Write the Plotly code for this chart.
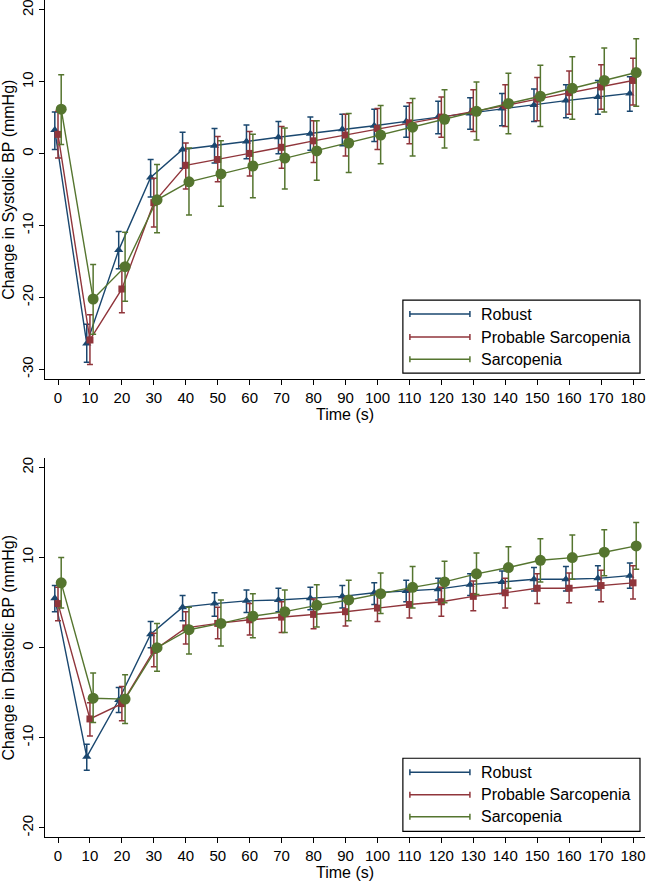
import plotly.graph_objects as go
from plotly.subplots import make_subplots

TIME = [0, 10, 20, 30, 40, 50, 60, 70, 80, 90, 100, 110, 120, 130, 140, 150, 160, 170, 180]
GROUPS = ["Robust", "Probable Sarcopenia", "Sarcopenia"]

SBP_TICKS = [-30, -20, -10, 0, 10, 20]
SBP_TICK_TEXT = ["-30", "-20", "-10", "0", "10", "20"]
DBP_TICKS = [-20, -10, 0, 10, 20]
DBP_TICK_TEXT = ["-20", "-10", "0", "10", "20"]

# Systolic BP change (mean, lower CI, upper CI)
SBP_ROB = [3.3, -26.4, -13.4, -3.3, 0.6, 1.1, 1.7, 2.3, 2.8, 3.4, 3.9, 4.5, 5.1, 5.6, 6.3, 6.8, 7.4, 7.9, 8.4]
SBP_ROB_LO = [0.6, -29.0, -16.0, -6.0, -2.0, -1.3, -0.7, 0.0, 0.5, 1.1, 1.7, 2.3, 2.8, 3.4, 3.9, 4.5, 5.0, 5.5, 5.9]
SBP_ROB_HI = [5.8, -23.7, -10.8, -0.8, 3.0, 3.5, 4.0, 4.5, 5.1, 5.5, 6.2, 6.6, 7.3, 7.8, 8.4, 9.0, 9.6, 10.2, 10.7]

SBP_PROB = [2.7, -25.9, -18.8, -6.8, -1.6, -0.8, 0.05, 0.9, 1.8, 2.6, 3.5, 4.3, 5.1, 5.9, 6.7, 7.6, 8.5, 9.3, 10.2]
SBP_PROB_LO = [-0.6, -29.3, -22.1, -10.2, -4.9, -3.9, -3.1, -2.0, -1.2, -0.3, 0.6, 1.4, 2.3, 3.1, 3.8, 4.6, 5.5, 6.2, 6.8]
SBP_PROB_HI = [5.9, -22.4, -15.6, -3.4, 1.5, 2.4, 3.1, 3.8, 4.6, 5.5, 6.3, 7.1, 7.9, 8.9, 9.6, 10.6, 11.5, 12.4, 13.3]

SBP_SARC = [6.2, -20.2, -15.7, -6.4, -3.9, -2.8, -1.7, -0.6, 0.4, 1.5, 2.6, 3.7, 4.8, 5.9, 7.0, 8.0, 9.1, 10.2, 11.3]
SBP_SARC_LO = [1.3, -25.1, -20.5, -11.0, -8.5, -7.3, -6.1, -4.9, -3.7, -2.6, -1.4, -0.3, 0.8, 1.9, 2.8, 3.8, 4.8, 5.8, 6.6]
SBP_SARC_HI = [11.0, -15.4, -10.9, -1.5, 0.8, 1.8, 2.7, 3.6, 4.6, 5.6, 6.7, 7.7, 8.9, 10.0, 11.2, 12.3, 13.5, 14.7, 16.0]

# Diastolic BP change (mean, lower CI, upper CI)
DBP_ROB = [5.5, -12.1, -5.8, 1.5, 4.5, 4.9, 5.2, 5.3, 5.5, 5.7, 6.1, 6.3, 6.5, 7.0, 7.3, 7.6, 7.6, 7.7, 8.0]
DBP_ROB_LO = [4.0, -13.6, -7.2, 0.0, 3.0, 3.5, 3.9, 4.0, 4.2, 4.4, 4.8, 5.1, 5.3, 5.8, 6.0, 6.3, 6.3, 6.4, 6.6]
DBP_ROB_HI = [6.9, -10.7, -4.4, 2.9, 5.8, 6.1, 6.4, 6.6, 6.7, 6.9, 7.2, 7.5, 7.7, 8.2, 8.5, 8.9, 9.0, 9.1, 9.4]

DBP_PROB = [4.9, -7.9, -6.2, -0.3, 2.2, 2.7, 3.1, 3.4, 3.7, 4.0, 4.4, 4.8, 5.1, 5.7, 6.1, 6.6, 6.6, 6.9, 7.2]
DBP_PROB_LO = [3.0, -9.8, -8.1, -2.1, 0.4, 1.0, 1.4, 1.7, 2.1, 2.4, 2.9, 3.3, 3.5, 4.1, 4.4, 4.9, 5.0, 5.1, 5.4]
DBP_PROB_HI = [6.7, -6.1, -4.3, 1.6, 4.0, 4.5, 4.9, 5.1, 5.4, 5.5, 6.0, 6.4, 6.7, 7.4, 7.7, 8.2, 8.3, 8.6, 9.1]

DBP_SARC = [7.2, -5.6, -5.7, 0.0, 2.0, 2.7, 3.5, 4.0, 4.7, 5.3, 6.0, 6.7, 7.3, 8.2, 8.9, 9.7, 10.0, 10.6, 11.3]
DBP_SARC_LO = [4.4, -8.3, -8.4, -2.6, -0.7, 0.2, 1.1, 1.7, 2.3, 3.0, 3.8, 4.4, 5.0, 5.9, 6.6, 7.3, 7.6, 8.0, 8.7]
DBP_SARC_HI = [10.0, -2.8, -3.0, 2.7, 4.5, 5.3, 6.0, 6.4, 7.0, 7.5, 8.3, 9.0, 9.6, 10.5, 11.2, 12.1, 12.5, 13.1, 13.9]

# styling
COLORS = ["#1A476F", "#90353B", "#55752F"]
SYMBOLS = ["triangle-up", "square", "circle"]
SIZES = [8, 7, 11]
DODGE = [-1, 0, 1]
FONT = "Liberation Sans, Arial, Helvetica, sans-serif"

W, H = 646, 883
ML, MR, MT, MB = 45.3, 1, 0, 46.3


def px(x):
    return (x - ML) / (W - ML - MR)


def py(y):
    return (H - MB - y) / (H - MT - MB)


fig = make_subplots(rows=2, cols=1, vertical_spacing=0.0)
fig.update_yaxes(domain=[py(379.3), 1.0], row=1, col=1)
fig.update_yaxes(domain=[0.0, py(458.3)], row=2, col=1)

panels = [
    (1, [(SBP_ROB, SBP_ROB_LO, SBP_ROB_HI),
         (SBP_PROB, SBP_PROB_LO, SBP_PROB_HI),
         (SBP_SARC, SBP_SARC_LO, SBP_SARC_HI)]),
    (2, [(DBP_ROB, DBP_ROB_LO, DBP_ROB_HI),
         (DBP_PROB, DBP_PROB_LO, DBP_PROB_HI),
         (DBP_SARC, DBP_SARC_LO, DBP_SARC_HI)]),
]

for row, series in panels:
    for i, (m, lo, hi) in enumerate(series):
        fig.add_trace(go.Scatter(
            x=[t + DODGE[i] for t in TIME], y=m,
            mode="lines+markers", name=GROUPS[i], showlegend=False,
            line=dict(color=COLORS[i], width=1.4),
            marker=dict(symbol=SYMBOLS[i], size=SIZES[i], color=COLORS[i]),
            error_y=dict(type="data", symmetric=False,
                         array=[h - v for h, v in zip(hi, m)],
                         arrayminus=[v - l for v, l in zip(m, lo)],
                         color=COLORS[i], thickness=1.5, width=3),
        ), row=row, col=1)

ax_common = dict(showline=True, linecolor="black", linewidth=1,
                 ticks="outside", ticklen=5, tickcolor="black",
                 showgrid=False, zeroline=False, automargin=False,
                 ticklabeloverflow="allow",
                 tickfont=dict(family=FONT, size=15, color="black"))
title_font = dict(family=FONT, size=16, color="black")

for row in (1, 2):
    fig.update_xaxes(**ax_common, range=[-4.07, 183.75], tickvals=TIME,
                     ticktext=[str(t) for t in TIME],
                     title=dict(text="Time (s)", font=title_font, standoff=1),
                     row=row, col=1)

fig.update_yaxes(**ax_common, range=[-31.39, 21.39], tickvals=SBP_TICKS,
                 ticktext=SBP_TICK_TEXT, tickangle=-90,
                 title=dict(text="Change in Systolic BP (mmHg)", font=title_font, standoff=2),
                 row=1, col=1)
fig.update_yaxes(**ax_common, range=[-21.0, 21.0], tickvals=DBP_TICKS,
                 ticktext=DBP_TICK_TEXT, tickangle=-90,
                 title=dict(text="Change in Diastolic BP (mmHg)", font=title_font, standoff=2),
                 row=2, col=1)

# legends drawn as boxes with capped line keys
shapes = []
annotations = []
legend_boxes = [
    (403, 300, 640, 373, [314, 337, 359]),
    (403, 758, 640, 831, [772, 794.5, 816.5]),
]
for x0, y0, x1, y1, rows_y in legend_boxes:
    shapes.append(dict(type="rect", xref="paper", yref="paper",
                       x0=px(x0), x1=px(x1), y0=py(y1), y1=py(y0),
                       line=dict(color="black", width=1.2), fillcolor="white", layer="above"))
    for i, yy in enumerate(rows_y):
        shapes.append(dict(type="line", xref="paper", yref="paper",
                           x0=px(410), x1=px(470), y0=py(yy), y1=py(yy),
                           line=dict(color=COLORS[i], width=1.5), layer="above"))
        for xc in (410, 470):
            shapes.append(dict(type="line", xref="paper", yref="paper",
                               x0=px(xc), x1=px(xc), y0=py(yy - 3), y1=py(yy + 3),
                               line=dict(color=COLORS[i], width=1.5), layer="above"))
        annotations.append(dict(text=GROUPS[i], xref="paper", yref="paper",
                                x=px(479), y=py(yy), xanchor="left", yanchor="middle",
                                showarrow=False,
                                font=dict(family=FONT, size=16, color="black")))

fig.update_layout(
    width=W, height=H,
    margin=dict(l=ML, r=MR, t=MT, b=MB, pad=0),
    paper_bgcolor="white", plot_bgcolor="white",
    showlegend=False,
    font=dict(family=FONT, size=15, color="black"),
    shapes=shapes,
    annotations=annotations,
)

# page body has a default 8px margin; drop it so the figure fills the window
fig.write_html("out.html", config={"displayModeBar": False},
               post_script="document.body.style.margin='0';")
